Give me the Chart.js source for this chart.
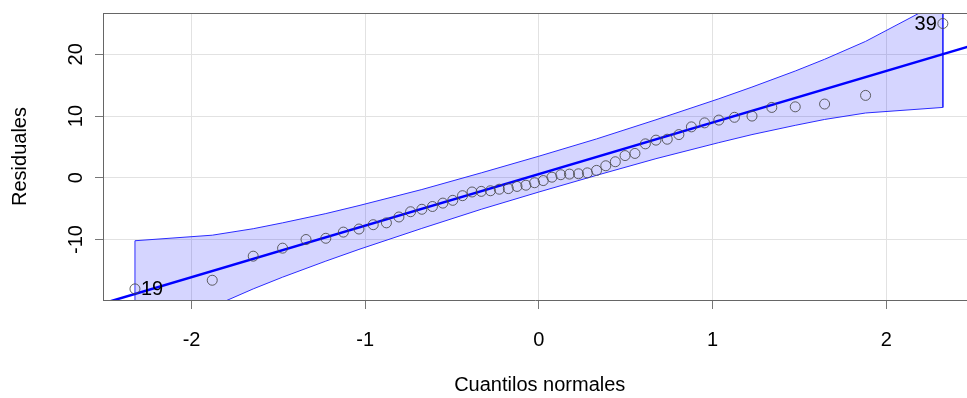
<!DOCTYPE html>
<html>
<head>
<meta charset="utf-8">
<script src="https://cdn.jsdelivr.net/npm/chart.js@4/dist/chart.umd.min.js"></script>
<style>
  html, body { margin: 0; padding: 0; background: #ffffff; }
  #wrap { width: 967px; height: 398px; position: relative; }
</style>
</head>
<body>
<div id="wrap"><canvas id="c" width="967" height="398"></canvas></div>
<script>
// ---- data ----
const normQuantiles = [
  -2.326, -1.881, -1.645, -1.476, -1.341, -1.227, -1.126, -1.036, -0.954, -0.878,
  -0.806, -0.739, -0.674, -0.613, -0.553, -0.496, -0.440, -0.385, -0.332, -0.279,
  -0.228, -0.176, -0.126, -0.075, -0.025, 0.025, 0.075, 0.126, 0.176, 0.228,
  0.279, 0.332, 0.385, 0.440, 0.496, 0.553, 0.613, 0.674, 0.739, 0.806,
  0.878, 0.954, 1.036, 1.126, 1.227, 1.341, 1.476, 1.645, 1.881, 2.326
];
const residuals = [
  -18.0, -16.6, -12.7, -11.4, -10.0, -9.8, -8.8, -8.3, -7.6, -7.3,
  -6.35, -5.5, -5.1, -4.65, -4.1, -3.65, -2.9, -2.3, -2.2, -2.1,
  -1.85, -1.75, -1.4, -1.2, -0.8, -0.45, 0.1, 0.5, 0.6, 0.65,
  0.8, 1.2, 1.95, 2.6, 3.6, 3.95, 5.5, 6.1, 6.25, 7.0,
  8.25, 8.9, 9.35, 9.8, 10.0, 11.4, 11.5, 11.95, 13.35, 25.0
];
const pointIds = [19, 39];          // labels of the flagged observations
const pointIdRank = [0, 49];        // their position in the sorted residuals
const bandQ = [-2.326, -1.881, -1.645, -1.476, -1.227, -1.036, -0.674, -0.332, 0, 0.332, 0.674, 1.036, 1.227, 1.476, 1.645, 1.881, 2.326];
const bandUpper = [-10.2, -9.3, -8.25, -7.3, -5.8, -4.5, -1.9, 0.8, 3.5, 6.3, 9.4, 12.8, 14.7, 17.3, 19.2, 22.1, 28.7];
const bandLower = [-27.5, -20.9, -18.0, -16.1, -13.5, -11.6, -8.2, -5.1, -2.3, 0.4, 3.1, 5.7, 7.0, 8.5, 9.45, 10.5, 11.4];
const lineIntercept = 0.6;
const lineSlope = 8.35;
const xTicks = [-2, -1, 0, 1, 2];
const yTicks = [-10, 0, 10, 20];
const xTitle = "Cuantilos normales";
const yTitle = "Residuales";

// ---- build library structures ----
const X_MIN = -2.51, X_MAX = 2.465, Y_MIN = -19.8, Y_MAX = 26.7;
const pts = normQuantiles.map((q, i) => ({x: q, y: residuals[i]}));
const up = bandQ.map((q, i) => ({x: q, y: bandUpper[i]}));
const lo = bandQ.map((q, i) => ({x: q, y: bandLower[i]}));
const outline = up.concat(lo.slice().reverse(), [up[0]]);
const fitLine = [X_MIN - 0.2, X_MAX + 0.2].map(x => ({x: x, y: lineIntercept + lineSlope * x}));

const FONT = '"Liberation Sans", Arial, Helvetica, sans-serif';

const decor = {
  id: 'decor',
  afterDraw(chart) {
    const ctx = chart.ctx;
    const a = chart.chartArea;
    const xs = chart.scales.x, ys = chart.scales.y;
    ctx.save();
    // top border of the box
    ctx.strokeStyle = '#666666';
    ctx.lineWidth = 1;
    ctx.beginPath();
    ctx.moveTo(a.left, Math.round(a.top) + 0.5);
    ctx.lineTo(a.right, Math.round(a.top) + 0.5);
    ctx.stroke();

    ctx.fillStyle = '#000000';
    ctx.font = '20px ' + FONT;
    ctx.textAlign = 'center';
    ctx.textBaseline = 'middle';
    // x tick labels
    xTicks.forEach(v => {
      ctx.fillText(String(v), xs.getPixelForValue(v), 340);
    });
    // y tick labels (rotated)
    yTicks.forEach(v => {
      ctx.save();
      ctx.translate(76, ys.getPixelForValue(v));
      ctx.rotate(-Math.PI / 2);
      ctx.fillText(String(v), 0, 0);
      ctx.restore();
    });
    // axis titles
    ctx.fillText(xTitle, (a.left + xs.getPixelForValue(2.52)) / 2, 385);
    ctx.save();
    ctx.translate(20, (a.top + a.bottom) / 2);
    ctx.rotate(-Math.PI / 2);
    ctx.fillText(yTitle, 0, 0);
    ctx.restore();
    // point id labels
    pointIds.forEach((id, k) => {
      const r = pointIdRank[k];
      const px = xs.getPixelForValue(normQuantiles[r]);
      const py = ys.getPixelForValue(residuals[r]);
      if (normQuantiles[r] < 0) {
        ctx.textAlign = 'left';
        ctx.fillText(String(id), px + 6, py + 1);
      } else {
        ctx.textAlign = 'right';
        ctx.fillText(String(id), px - 6, py + 1);
      }
    });
    ctx.restore();
  }
};

new Chart(document.getElementById('c'), {
  type: 'line',
  data: {
    datasets: [
      { label: 'pts', data: pts, showLine: false, pointRadius: 5, pointHoverRadius: 5,
        pointBorderWidth: 1, pointBorderColor: 'rgba(70,70,70,0.85)', pointBackgroundColor: 'rgba(0,0,0,0)', order: 0 },
      { label: 'fit', data: fitLine, borderColor: '#0000ff', borderWidth: 2.5, pointRadius: 0, tension: 0, fill: false, order: 1 },
      { label: 'outline', data: outline, borderColor: '#2b2bff', borderWidth: 1, pointRadius: 0, tension: 0, fill: false, order: 2 },
      { label: 'upper', data: up, borderWidth: 0, borderColor: 'rgba(0,0,0,0)', pointRadius: 0, tension: 0,
        fill: { target: 4 }, backgroundColor: 'rgba(0,0,255,0.165)', order: 3 },
      { label: 'lower', data: lo, borderWidth: 0, borderColor: 'rgba(0,0,0,0)', pointRadius: 0, tension: 0, fill: false, order: 4 }
    ]
  },
  options: {
    responsive: false,
    animation: false,
    events: [],
    layout: { autoPadding: false, padding: { top: 13, left: 0, right: 0, bottom: 0 } },
    plugins: { legend: { display: false }, tooltip: { enabled: false } },
    scales: {
      x: {
        type: 'linear', min: X_MIN, max: X_MAX,
        ticks: { stepSize: 1, includeBounds: false, display: false },
        grid: { color: '#e2e2e2', tickColor: '#777777', tickLength: 9, lineWidth: 1 },
        border: { display: true, color: '#666666', width: 1 },
        afterFit(s) { s.height = 98; }
      },
      y: {
        type: 'linear', min: Y_MIN, max: Y_MAX,
        ticks: { stepSize: 10, includeBounds: false, display: false },
        grid: { color: '#e2e2e2', tickColor: '#777777', tickLength: 8, lineWidth: 1 },
        border: { display: true, color: '#666666', width: 1 },
        afterFit(s) { s.width = 103; }
      }
    }
  },
  plugins: [decor]
});
</script>
</body>
</html>
